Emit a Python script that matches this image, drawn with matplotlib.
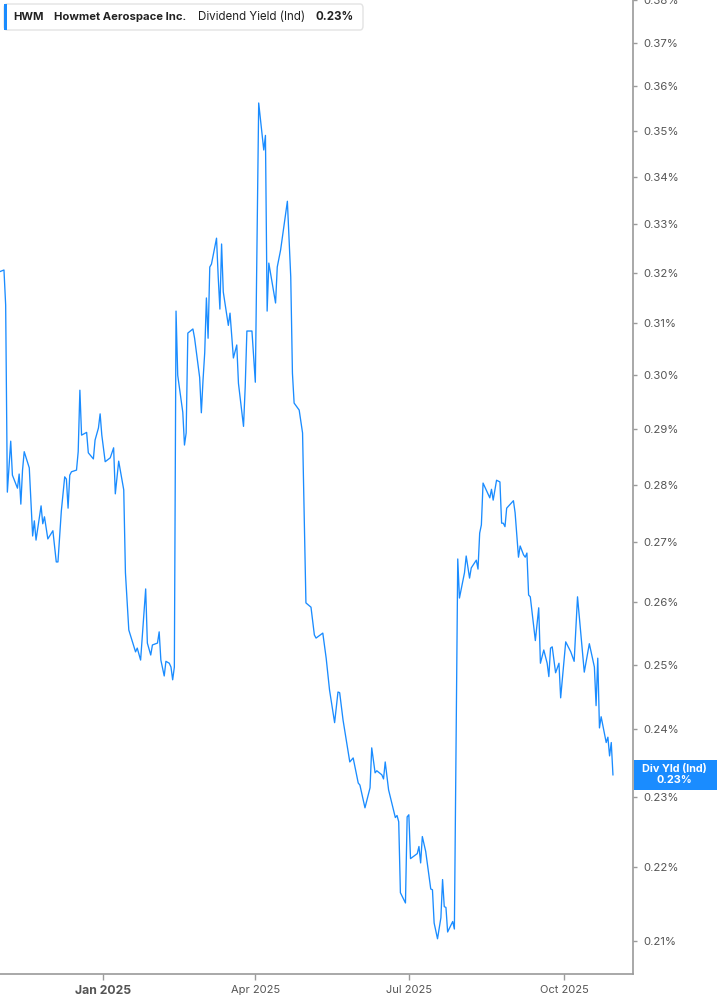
import matplotlib
matplotlib.use("Agg")
import matplotlib.pyplot as plt
import matplotlib.ticker as mticker
from matplotlib.patches import FancyBboxPatch, Rectangle
import pandas as pd

plt.rcParams["font.family"] = ["Inter", "DejaVu Sans"]

# HWM indicated dividend yield (%)
dates_2024 = [
    "2024-10-31", "2024-11-03", "2024-11-04", "2024-11-05", "2024-11-07", "2024-11-08",
    "2024-11-11", "2024-11-12", "2024-11-13", "2024-11-14", "2024-11-15", "2024-11-18",
    "2024-11-20", "2024-11-21", "2024-11-22", "2024-11-25", "2024-11-26", "2024-11-27",
    "2024-11-29", "2024-12-02", "2024-12-04", "2024-12-05", "2024-12-07", "2024-12-09",
    "2024-12-10", "2024-12-11", "2024-12-12", "2024-12-13", "2024-12-16", "2024-12-17",
    "2024-12-18", "2024-12-19", "2024-12-22", "2024-12-23", "2024-12-26", "2024-12-27",
    "2024-12-29", "2024-12-30", "2024-12-31",
]
yield_2024 = [
    0.3202, 0.3206, 0.3136, 0.2787, 0.2878, 0.2817,
    0.2794, 0.2819, 0.2766, 0.2826, 0.2859, 0.2830,
    0.2711, 0.2737, 0.2704, 0.2763, 0.2732, 0.2744,
    0.2706, 0.2720, 0.2667, 0.2667, 0.2754, 0.2814,
    0.2810, 0.2759, 0.2817, 0.2823, 0.2826, 0.2859,
    0.2972, 0.2889, 0.2894, 0.2857, 0.2846, 0.2880,
    0.2902, 0.2928, 0.2889,
]

dates_q1 = [
    "2025-01-02", "2025-01-05", "2025-01-07", "2025-01-08", "2025-01-10", "2025-01-13",
    "2025-01-14", "2025-01-15", "2025-01-16", "2025-01-20", "2025-01-21", "2025-01-23",
    "2025-01-26", "2025-01-27", "2025-01-29", "2025-01-30", "2025-02-02", "2025-02-03",
    "2025-02-04", "2025-02-06", "2025-02-07", "2025-02-09", "2025-02-10", "2025-02-11",
    "2025-02-12", "2025-02-13", "2025-02-14", "2025-02-17", "2025-02-18", "2025-02-19",
    "2025-02-20", "2025-02-23", "2025-02-24", "2025-02-27", "2025-02-28", "2025-03-01",
    "2025-03-02", "2025-03-03", "2025-03-04", "2025-03-05", "2025-03-06", "2025-03-09",
    "2025-03-10", "2025-03-11", "2025-03-12", "2025-03-13", "2025-03-16", "2025-03-17",
    "2025-03-19", "2025-03-21", "2025-03-22", "2025-03-25", "2025-03-26", "2025-03-27",
    "2025-03-30",
]
yield_q1 = [
    0.2841, 0.2848, 0.2866, 0.2784, 0.2842, 0.2791,
    0.2649, 0.2602, 0.2555, 0.2520, 0.2526, 0.2507,
    0.2622, 0.2534, 0.2515, 0.2531, 0.2534, 0.2552,
    0.2507, 0.2482, 0.2505, 0.2502, 0.2496, 0.2476,
    0.2496, 0.3124, 0.3000, 0.2931, 0.2871, 0.2893,
    0.3081, 0.3089, 0.3071, 0.2996, 0.2930, 0.2991,
    0.3043, 0.3150, 0.3071, 0.3212, 0.3218, 0.3271,
    0.3192, 0.3128, 0.3259, 0.3162, 0.3096, 0.3120,
    0.3033, 0.3058, 0.2985, 0.2905, 0.2978, 0.3085,
    0.3085,
]

dates_q2 = [
    "2025-04-01", "2025-04-03", "2025-04-06", "2025-04-07", "2025-04-08", "2025-04-09",
    "2025-04-11", "2025-04-13", "2025-04-14", "2025-04-16", "2025-04-20", "2025-04-22",
    "2025-04-23", "2025-04-24", "2025-04-27", "2025-04-29", "2025-05-01", "2025-05-04",
    "2025-05-06", "2025-05-07", "2025-05-11", "2025-05-13", "2025-05-15", "2025-05-18",
    "2025-05-20", "2025-05-21", "2025-05-23", "2025-05-27", "2025-05-29", "2025-06-01",
    "2025-06-02", "2025-06-05", "2025-06-08", "2025-06-09", "2025-06-11", "2025-06-12",
    "2025-06-15", "2025-06-16", "2025-06-17", "2025-06-19", "2025-06-23", "2025-06-24",
    "2025-06-25", "2025-06-26", "2025-06-29", "2025-06-30",
]
yield_q2 = [
    0.2987, 0.3562, 0.3458, 0.3490, 0.3124, 0.3220,
    0.3180, 0.3140, 0.3212, 0.3247, 0.3348, 0.3192,
    0.3004, 0.2948, 0.2935, 0.2893, 0.2599, 0.2592,
    0.2547, 0.2542, 0.2550, 0.2510, 0.2460, 0.2410,
    0.2457, 0.2456, 0.2414, 0.2351, 0.2357, 0.2320,
    0.2317, 0.2284, 0.2313, 0.2372, 0.2335, 0.2338,
    0.2332, 0.2326, 0.2351, 0.2310, 0.2270, 0.2273,
    0.2264, 0.2165, 0.2151, 0.2271,
]

dates_q3 = [
    "2025-07-01", "2025-07-02", "2025-07-06", "2025-07-07", "2025-07-08", "2025-07-09",
    "2025-07-11", "2025-07-14", "2025-07-15", "2025-07-16", "2025-07-18", "2025-07-20",
    "2025-07-21", "2025-07-22", "2025-07-23", "2025-07-24", "2025-07-27", "2025-07-28",
    "2025-07-30", "2025-07-31", "2025-08-03", "2025-08-04", "2025-08-06", "2025-08-07",
    "2025-08-10", "2025-08-11", "2025-08-12", "2025-08-13", "2025-08-14", "2025-08-18",
    "2025-08-19", "2025-08-20", "2025-08-22", "2025-08-24", "2025-08-25", "2025-08-26",
    "2025-08-27", "2025-08-28", "2025-09-01", "2025-09-02", "2025-09-04", "2025-09-05",
    "2025-09-07", "2025-09-08", "2025-09-09", "2025-09-10", "2025-09-11", "2025-09-14",
    "2025-09-16", "2025-09-17", "2025-09-19", "2025-09-21", "2025-09-22", "2025-09-23",
    "2025-09-24", "2025-09-26", "2025-09-28", "2025-09-29",
]
yield_q3 = [
    0.2274, 0.2212, 0.2219, 0.2229, 0.2206, 0.2243,
    0.2222, 0.2170, 0.2169, 0.2124, 0.2103, 0.2131,
    0.2183, 0.2146, 0.2145, 0.2112, 0.2126, 0.2116,
    0.2672, 0.2607, 0.2649, 0.2677, 0.2640, 0.2657,
    0.2670, 0.2655, 0.2716, 0.2730, 0.2803, 0.2777,
    0.2792, 0.2773, 0.2808, 0.2805, 0.2733, 0.2733,
    0.2727, 0.2759, 0.2772, 0.2751, 0.2675, 0.2694,
    0.2679, 0.2675, 0.2682, 0.2612, 0.2609, 0.2538,
    0.2591, 0.2502, 0.2523, 0.2502, 0.2481, 0.2526,
    0.2528, 0.2487, 0.2502, 0.2448,
]

dates_q4 = [
    "2025-10-02", "2025-10-05", "2025-10-07", "2025-10-09", "2025-10-13", "2025-10-16",
    "2025-10-19", "2025-10-20", "2025-10-21", "2025-10-22", "2025-10-23", "2025-10-26",
    "2025-10-27", "2025-10-28", "2025-10-29", "2025-10-30",
]
yield_q4 = [
    0.2536, 0.2520, 0.2505, 0.2609, 0.2488, 0.2533,
    0.2496, 0.2436, 0.2510, 0.2402, 0.2419, 0.2380,
    0.2388, 0.2360, 0.2380, 0.2332,
]

y_ticks = [0.21, 0.22, 0.23, 0.24, 0.25, 0.26, 0.27, 0.28, 0.29,
           0.30, 0.31, 0.32, 0.33, 0.34, 0.35, 0.36, 0.37, 0.38]
x_ticks = ["2025-01-01", "2025-04-01", "2025-07-01", "2025-10-01"]
x_labels = ["Jan 2025", "Apr 2025", "Jul 2025", "Oct 2025"]

ticker_name = "HWM"
company = "Howmet Aerospace Inc."
metric = "Dividend Yield (Ind)"
last_label = "0.23%"

BLUE = "#1a8cff"
GREY = "#555555"
AXIS = "#9a9a9a"

df = pd.DataFrame({
    "date": pd.to_datetime(dates_2024 + dates_q1 + dates_q2 + dates_q3 + dates_q4),
    "yield": yield_2024 + yield_q1 + yield_q2 + yield_q3 + yield_q4,
})

W, H = 717, 1005
fig = plt.figure(figsize=(W / 100, H / 100), dpi=100)
ax = fig.add_axes([0, 31 / H, 632.7 / W, 1 - 31 / H])

ax.plot(df["date"], df["yield"], color=BLUE, linewidth=0.95)

ax.set_yscale("log")
ax.set_ylim(0.20568, 0.3801)
ax.set_xlim(pd.Timestamp("2024-10-31 15:30"), pd.Timestamp("2025-11-10 17:00"))

ax.yaxis.set_major_locator(mticker.FixedLocator(y_ticks))
ax.yaxis.set_minor_locator(mticker.NullLocator())
ax.yaxis.set_major_formatter(mticker.FuncFormatter(lambda v, _: f"{v:.2f}%"))
ax.yaxis.tick_right()
ax.tick_params(axis="y", which="major", direction="out", length=3, width=1,
               color=AXIS, pad=5, labelsize=8.2, labelcolor=GREY)

ax.set_xticks(pd.to_datetime(x_ticks))
ax.set_xticklabels(x_labels)
ax.tick_params(axis="x", direction="out", length=4, width=1, color=AXIS,
               pad=4, labelsize=8, labelcolor=GREY)
ax.get_xticklabels()[0].set_fontweight("bold")
ax.get_xticklabels()[0].set_fontsize(8.8)

for side in ("left", "top"):
    ax.spines[side].set_visible(False)
for side in ("right", "bottom"):
    ax.spines[side].set_color(AXIS)
    ax.spines[side].set_linewidth(1.2)
ax.set_facecolor("white")

# header box
fig.patches.append(FancyBboxPatch((4 / W, 1 - 30 / H), 359 / W, 26 / H,
                                  boxstyle="round,pad=0,rounding_size=0.004",
                                  transform=fig.transFigure, facecolor="white",
                                  edgecolor="#e3e3e3", linewidth=1))
fig.patches.append(Rectangle((4 / W, 1 - 30 / H), 3 / W, 26 / H,
                             transform=fig.transFigure, facecolor=BLUE, edgecolor="none"))
hy = 1 - 17 / H
fig.text(13 / W, hy, ticker_name, fontsize=8.1, fontweight="bold", color="#222222", va="center")
fig.text(54 / W, hy, company, fontsize=8.1, fontweight="bold", color="#222222", va="center")
fig.text(198 / W, hy, metric, fontsize=8.3, color="#222222", va="center")
fig.text(315 / W, hy, last_label, fontsize=8.3, fontweight="bold", color="#222222", va="center")

# last value tag on the right axis
last = df["yield"].iloc[-1]
y_pix = ax.transData.transform((ax.get_xlim()[0], last))[1]
x0 = ax.get_position().x1 * W
fig.patches.append(Rectangle(((x0 + 1) / W, (y_pix - 15) / H), (W - x0) / W, 30 / H,
                             transform=fig.transFigure, facecolor=BLUE, edgecolor="none"))
tx = (x0 + W) / 2 / W
fig.text(tx, (y_pix + 6) / H, "Div Yld (Ind)", fontsize=7.8, fontweight="bold",
         color="white", ha="center", va="center")
fig.text(tx, (y_pix - 5.5) / H, f"{last:.2f}%", fontsize=7.8, fontweight="bold",
         color="white", ha="center", va="center")

fig.savefig("out.png", dpi=100)
plt.close(fig)
